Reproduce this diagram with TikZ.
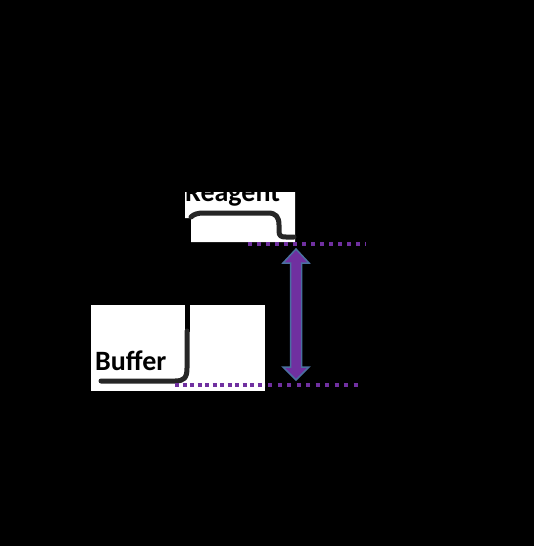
\documentclass[tikz,border=0pt]{standalone}
\usepackage{fontspec}
\setmainfont{Carlito}
\definecolor{purp}{HTML}{7030A0}
\definecolor{edgeblue}{HTML}{4A6FA0}
\definecolor{tube}{HTML}{262626}
\begin{document}
\begin{tikzpicture}[x=1pt,y=-1pt,
  lbl/.style={font=\bfseries\fontsize{28}{30}\selectfont, text=black, inner sep=0pt, anchor=base west},
  tubeline/.style={draw=tube, line width=5pt, line cap=round, line join=round},
  dotline/.style={draw=purp, line width=4pt, dash pattern=on 4pt off 5pt}]
\fill[black] (0,0) rectangle (534,546);
\useasboundingbox (0,0) rectangle (534,546);
% white panels
\fill[white] (185,192) -- (295,192) -- (295,242) -- (191,242) -- (191,218) -- (185,218) -- cycle;
\fill[white] (91,305) rectangle (265,391);
% labels
\node[lbl] (reagent) at (185,201) {Reagent};
\node[lbl] (buffer) at (95,370) {Buffer};
% tube curves
\draw[tubeline] (191,217) .. controls (194,214) and (198,213) .. (204,213) -- (268,213)
  .. controls (276,213) and (279,217) .. (279,225) -- (279,231)
  .. controls (279,236) and (281,237) .. (286,237) -- (294,237);
\draw[tubeline, draw=black, line cap=butt] (187,305) -- (187,332);
\draw[tubeline] (187,331) -- (187,368) .. controls (187,378) and (184,381) .. (175,381) -- (101,381);
% dotted levels
\draw[dotline] (248,243.5) -- (366,243.5);
\draw[dotline, dash pattern=on 4pt off 3.5pt] (175,384.5) -- (265,384.5);
\draw[dotline, dash pattern=on 4pt off 5.5pt] (268,384.5) -- (362,384.5);
% double arrow
\draw[fill=purp, draw=edgeblue, line width=1.5pt, line join=miter]
  (296,249) -- (309,263) -- (301.5,263) -- (301.5,367) -- (309,367) -- (296,380)
  -- (283,367) -- (290.5,367) -- (290.5,263) -- (283,263) -- cycle;
\end{tikzpicture}
\end{document}
